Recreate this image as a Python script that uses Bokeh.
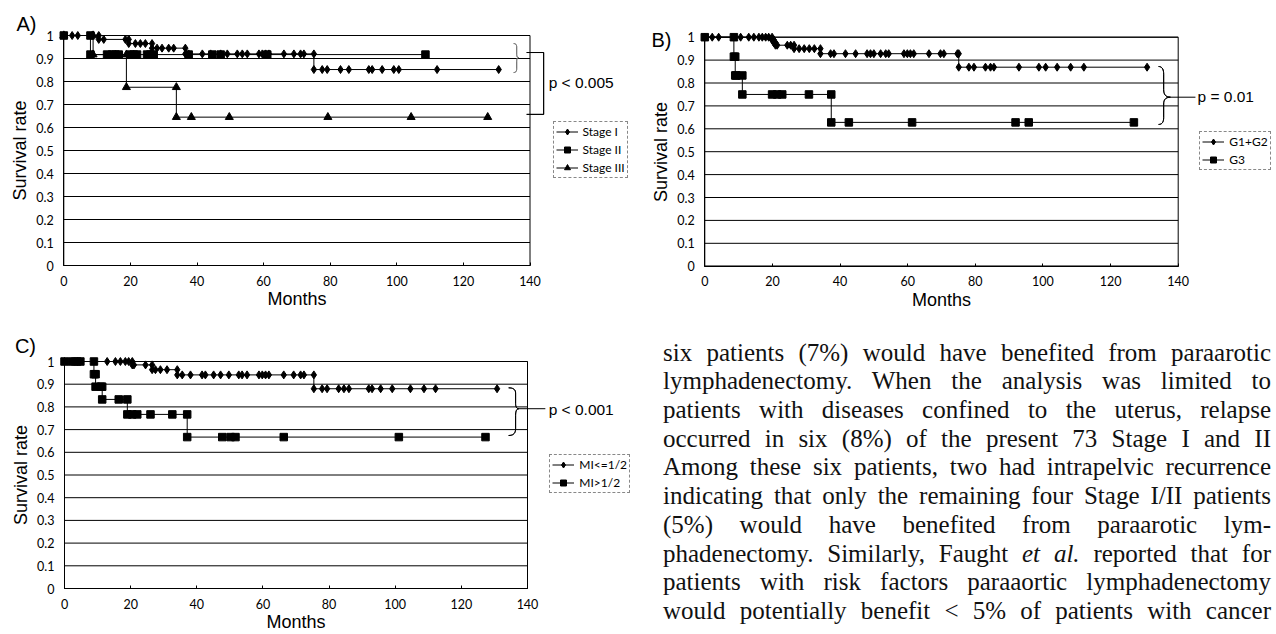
import numpy as np
from bokeh.plotting import figure
from bokeh.models import (Range1d, FixedTicker, Label, PolyAnnotation, Legend,
                          LegendItem, Div)
from bokeh.layouts import row, column
from bokeh.embed import file_html
from bokeh.resources import INLINE

# ---------------- data (months, survival rate) ----------------
x_ticks = [0, 20, 40, 60, 80, 100, 120, 140]
y_ticks = [0, 0.1, 0.2, 0.3, 0.4, 0.5, 0.6, 0.7, 0.8, 0.9, 1]
y_tick_labels = ["0", "0.1", "0.2", "0.3", "0.4", "0.5", "0.6", "0.7", "0.8", "0.9", "1"]

# Panel A: stage
stage1_months = [0, 2.5, 4.2, 8.5, 10.5,
                 10.5, 12, 18.5, 19.5,
                 19.5, 21.5, 23, 24.5, 26.5,
                 26.5, 28, 29.5, 31.5, 33, 36.5,
                 36.5, 37.5, 41.6, 44.1, 47.1, 49.1, 52.1, 53.6, 55.1, 58.6, 59.6, 60.6, 61.6, 66.1, 69.1, 71.1, 72.1, 75.1,
                 75.1, 77.6, 79.1, 83.1, 85.6, 91.6, 92.6, 95.6, 99.1, 100.6, 112.1, 130.6]
stage1_surv = [1, 1, 1, 1, 1,
               0.983, 0.983, 0.983, 0.983,
               0.965, 0.965, 0.965, 0.965, 0.965,
               0.945, 0.945, 0.945, 0.945, 0.945, 0.945,
               0.92, 0.92, 0.92, 0.92, 0.92, 0.92, 0.92, 0.92, 0.92, 0.92, 0.92, 0.92, 0.92, 0.92, 0.92, 0.92, 0.92, 0.92,
               0.852, 0.852, 0.852, 0.852, 0.852, 0.852, 0.852, 0.852, 0.852, 0.852, 0.852, 0.852]
stage2_months = [0, 8.0, 8.0, 13, 14.5, 15.5, 16.5, 20, 21, 22, 25, 26, 27, 37.5, 44.6, 47.1, 61.1, 108.6]
stage2_surv = [1, 1, 0.917, 0.917, 0.917, 0.917, 0.917, 0.917, 0.917, 0.917, 0.917, 0.917, 0.917,
               0.917, 0.917, 0.917, 0.917, 0.917]
stage3_months = [0, 8.8, 8.8, 18.8, 18.8, 33.8, 33.8, 38.3, 49.7, 79.3, 104.3, 127.3]
stage3_surv = [1, 1, 0.917, 0.917, 0.775, 0.775, 0.645, 0.645, 0.645, 0.645, 0.645, 0.645]

# Panel B: grade
g12_months = [0, 2.2, 4.1, 10.6, 13, 14.5, 16, 17, 18, 18.9, 19.9,
              19.9, 20.4,
              20.4, 20.9,
              20.9, 21.4, 24.4, 25.4, 26.4,
              26.4, 27.9, 29.4, 30.9, 32.4, 34.2,
              34.2, 37.2, 38.2, 41.6, 44.6, 48.0, 49.0, 50.0, 52.0, 53.5, 54.4, 58.9, 59.9, 60.8, 61.8, 66.3, 69.7, 70.7, 74.7, 75.1,
              75.1, 78.1, 79.6, 83.0, 84.5, 85.5, 92.9, 98.8, 100.8, 104.2, 108.2, 112.1, 130.8]
g12_surv = [1, 1, 1, 1, 1, 1, 1, 1, 1, 1, 1,
            0.988, 0.988,
            0.976, 0.976,
            0.965, 0.965, 0.965, 0.965, 0.965,
            0.95, 0.95, 0.95, 0.95, 0.95, 0.95,
            0.928, 0.928, 0.928, 0.928, 0.928, 0.928, 0.928, 0.928, 0.928, 0.928, 0.928, 0.928, 0.928, 0.928, 0.928, 0.928, 0.928, 0.928, 0.928, 0.928,
            0.869, 0.869, 0.869, 0.869, 0.869, 0.869, 0.869, 0.869, 0.869, 0.869, 0.869, 0.869, 0.869]
g3_months = [0, 8.6, 8.6, 9.0, 9.0, 9.3, 11.1, 11.1, 19.9, 21.4, 22.9, 30.8, 37.4, 37.4, 42.6, 61.3, 91.9, 95.8, 126.9]
g3_surv = [1, 1, 0.915, 0.915, 0.833, 0.833, 0.833, 0.75, 0.75, 0.75, 0.75, 0.75, 0.75,
           0.628, 0.628, 0.628, 0.628, 0.628, 0.628]

# Panel C: myometrial invasion
mi_lo_months = [0, 2.3, 3.8, 12.9, 15.4, 16.9, 18.4, 19.4, 20.5,
                20.5, 21.0, 24.5, 26.5,
                26.5, 27.5, 29.0, 31.0, 34.1,
                34.1, 35.6, 38.1, 41.6, 42.6, 45.1, 47.2, 49.7, 52.7, 53.7, 55.2, 58.8, 59.8, 60.8, 61.8, 66.3, 69.3, 71.4, 72.4, 75.4,
                75.4, 77.9, 79.4, 82.9, 84.5, 86.0, 92.0, 93.0, 95.6, 99.1, 104.6, 108.7, 112.2, 130.8]
mi_lo_surv = [1, 1, 1, 1, 1, 1, 1, 1, 1,
              0.985, 0.985, 0.985, 0.985,
              0.964, 0.964, 0.964, 0.964, 0.964,
              0.941, 0.941, 0.941, 0.941, 0.941, 0.941, 0.941, 0.941, 0.941, 0.941, 0.941, 0.941, 0.941, 0.941, 0.941, 0.941, 0.941, 0.941, 0.941, 0.941,
              0.88, 0.88, 0.88, 0.88, 0.88, 0.88, 0.88, 0.88, 0.88, 0.88, 0.88, 0.88, 0.88, 0.88]
mi_hi_months = [0, 2.3, 3.8, 4.8, 8.9, 8.9, 9.4, 9.4, 11.0, 11.4, 11.4, 16.4, 19.0, 19.0, 20.5, 22.0, 26.0,
                32.6, 37.1, 37.1, 47.7, 50.2, 51.7, 66.3, 101.1, 127.3]
mi_hi_surv = [1, 1, 1, 1, 1, 0.944, 0.944, 0.889, 0.889, 0.889, 0.833, 0.833, 0.833, 0.767, 0.767, 0.767,
              0.767, 0.767, 0.767, 0.667, 0.667, 0.667, 0.667, 0.667, 0.667, 0.667]

text_lines = [
    "six patients (7%) would have benefited from paraarotic",
    "lymphadenectomy. When the analysis was limited to",
    "patients with diseases confined to the uterus, relapse",
    "occurred in six (8%) of the present 73 Stage I and II",
    "Among these six patients, two had intrapelvic recurrence",
    "indicating that only the remaining four Stage I/II patients",
    "(5%) would have benefited from paraarotic lym-",
    "phadenectomy. Similarly, Faught <i>et al.</i> reported that for",
    "patients with risk factors paraaortic lymphadenectomy",
    "would potentially benefit &lt; 5% of patients with cancer",
]

SANS = "Liberation Sans"
TICKF = "Lato"


def make_panel(width, height, x0_px, x140_px, y1_px, y0_px):
    """Canvas = frame; the chart box is placed by choosing the ranges."""
    sx = (x140_px - x0_px) / (x_ticks[-1] - x_ticks[0])
    sy = (y0_px - y1_px) / (y_ticks[-1] - y_ticks[0])
    xr = Range1d(-x0_px / sx, (width - x0_px) / sx)
    yr = Range1d(-(height - y0_px) / sy, 1 + y1_px / sy)
    p = figure(width=width, height=height, x_range=xr, y_range=yr,
               output_backend="svg", toolbar_location=None,
               min_border_left=0, min_border_right=0, min_border_top=0, min_border_bottom=0)
    p.title.visible = False
    p.background_fill_color = "white"
    p.border_fill_color = "white"
    p.outline_line_color = None
    p.grid.visible = False
    # horizontal grid lines and plot box, drawn within the data extent
    p.segment(x0=x_ticks[0], x1=x_ticks[-1], y0=y_ticks, y1=y_ticks, line_color="black", line_width=1)
    p.quad(left=x_ticks[0], right=x_ticks[-1], bottom=y_ticks[0], top=y_ticks[-1],
           fill_color=None, line_color="black", line_width=1)
    for ax in (p.xaxis[0], p.yaxis[0]):
        ax.fixed_location = 0
        ax.axis_line_color = "black"
        ax.minor_tick_line_color = None
        ax.major_label_text_font = TICKF
        ax.major_label_text_font_size = "12.5px"
        ax.major_label_text_color = "black"
        ax.major_label_standoff = 10
        ax.axis_label_text_font = SANS
        ax.axis_label_text_font_size = "18px"
        ax.axis_label_text_font_style = "normal"
        ax.axis_label_text_color = "black"
    p.xaxis.ticker = FixedTicker(ticks=x_ticks)
    p.yaxis.ticker = FixedTicker(ticks=y_ticks)
    p.xaxis.bounds = (x_ticks[0], x_ticks[-1])
    p.yaxis.bounds = (y_ticks[0], y_ticks[-1])
    p.yaxis.major_label_overrides = {t: l for t, l in zip(y_ticks, y_tick_labels)}
    p.xaxis.major_tick_in = 3
    p.xaxis.major_tick_out = 0
    p.yaxis.major_tick_in = 0
    p.yaxis.major_tick_out = 0
    p.yaxis.axis_label = "Survival rate"
    p.yaxis.axis_label_standoff = 3
    p.xaxis.axis_label = "Months"
    p.xaxis.axis_label_standoff = 0
    return p


def series(p, t, s, marker, size):
    lr = p.line(t, s, line_color="black", line_width=1)
    sr = p.scatter(t, s, marker=marker, size=size, fill_color="black", line_color="black")
    return [lr, sr]


def qbez(p0, c, p1, n=10):
    tt = np.linspace(0, 1, n)
    x = (1 - tt) ** 2 * p0[0] + 2 * (1 - tt) * tt * c[0] + tt ** 2 * p1[0]
    y = (1 - tt) ** 2 * p0[1] + 2 * (1 - tt) * tt * c[1] + tt ** 2 * p1[1]
    return list(x), list(y)


def polyline(p, xs, ys, color="black", width=1):
    xs = list(xs) + list(xs)[::-1][1:-1]
    ys = list(ys) + list(ys)[::-1][1:-1]
    p.add_layout(PolyAnnotation(xs=xs, ys=ys, line_color=color, line_width=width,
                                line_alpha=1, fill_alpha=0, level="overlay"))


def brace(p, x_end, x_mid, x_tip, y_top, y_tip, y_bot, color="black", width=1):
    h1 = (y_top - y_tip) * 0.25
    h2 = (y_tip - y_bot) * 0.25
    xs, ys = [], []
    for seg in [qbez((x_end, y_top), (x_mid, y_top), (x_mid, y_top - h1)),
                qbez((x_mid, y_tip + h1), (x_mid, y_tip), (x_tip, y_tip)),
                qbez((x_tip, y_tip), (x_mid, y_tip), (x_mid, y_tip - h2)),
                qbez((x_mid, y_bot + h2), (x_mid, y_bot), (x_end, y_bot))]:
        xs += seg[0]
        ys += seg[1]
    polyline(p, xs, ys, color, width)


def text(p, x, y, s, size="15.5px", align="left"):
    p.add_layout(Label(x=x, y=y, text=s, text_font=SANS, text_font_size=size,
                       text_baseline="middle", text_align=align, text_color="black"))


def legend(p, items, vx, vy):
    lg = Legend(items=[LegendItem(label=l, renderers=r) for l, r in items],
                location=(vx, vy), margin=0, padding=2, spacing=3,
                glyph_width=22, glyph_height=15, label_height=15, label_standoff=5,
                label_text_font=TICKF, label_text_font_size="12px", label_text_color="black",
                border_line_color="#888888", border_line_dash="2 2", border_line_width=1,
                border_line_alpha=1, background_fill_alpha=0)
    p.add_layout(lg)


# ---------------- Panel A ----------------
pA = make_panel(640, 312, 63.3, 529.5, 35, 265)
rA1 = series(pA, stage1_months, stage1_surv, "diamond", 8)
rA2 = series(pA, stage2_months, stage2_surv, "square", 7.5)
rA3 = series(pA, stage3_months, stage3_surv, "triangle", 8)
legend(pA, [("Stage I", rA1), ("Stage II", rA2), ("Stage III", rA3)], 552.5, 134)
brace(pA, 135.1, 136.0, 136.6, 0.965, 0.904, 0.839, color="#777777")
polyline(pA, [139.0, 144.1, 144.1, 139.0], [0.926, 0.926, 0.657, 0.657])
text(pA, 145.6, 0.796, "p < 0.005")
text(pA, -11.2, 1.052, "A)", size="20px", align="center")

# ---------------- Panel B ----------------
pB = make_panel(636, 312, 64.3, 537.7, 36.7, 265.7)
rB1 = series(pB, g12_months, g12_surv, "diamond", 8)
rB2 = series(pB, g3_months, g3_surv, "square", 7.5)
legend(pB, [("G1+G2", rB1), ("G3", rB2)], 559.3, 141.7)
brace(pB, 134.2, 135.7, 137.7, 0.872, 0.738, 0.619)
polyline(pB, [137.7, 145.1], [0.738, 0.738])
text(pB, 145.7, 0.742, "p = 0.01")
text(pB, -12.8, 0.986, "B)", size="20px", align="center")

# ---------------- Panel C ----------------
pC = make_panel(640, 322, 64, 527, 49, 276)
rC1 = series(pC, mi_lo_months, mi_lo_surv, "diamond", 8)
rC2 = series(pC, mi_hi_months, mi_hi_surv, "square", 7.5)
legend(pC, [("MI<=1/2", rC1), ("MI>1/2", rC2)], 549.3, 141)
brace(pC, 134.3, 136.4, 137.4, 0.884, 0.792, 0.674)
polyline(pC, [137.4, 145.4], [0.792, 0.792])
text(pC, 146.4, 0.787, "p < 0.001")
text(pC, -11.8, 1.07, "C)", size="20px", align="center")

# ---------------- body text ----------------
inner = "".join(
    f'<div style="text-align:justify;text-align-last:justify;">{ln}</div>' for ln in text_lines)
html = ('<div style="box-sizing:content-box;width:608px;padding:26.6px 0 0 23px;'
        'font-family:\'Liberation Serif\',serif;'
        'font-size:25px;line-height:28.7px;color:#111111;">' + inner + '</div>')
div = Div(text=html, width=636, height=322, margin=0, styles={"overflow": "hidden"})

layout = column(row(pA, pB), row(pC, div))
open("out.html", "w").write(file_html(layout, INLINE))
